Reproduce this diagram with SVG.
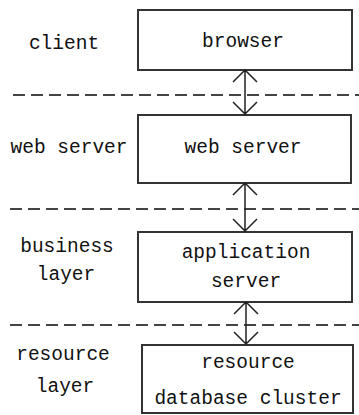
<svg xmlns="http://www.w3.org/2000/svg" width="359" height="415" viewBox="0 0 359 415">
<style>
.box{fill:#fff;stroke:#333;stroke-width:2}
.t{font-family:"Liberation Mono","DejaVu Sans Mono",monospace;font-size:19.5px;fill:#111;text-anchor:middle}
.dash{stroke:#444;stroke-width:2;stroke-dasharray:12 6;fill:none}
.arr{stroke:#222;stroke-width:1.5;fill:none}
</style>
<rect width="359" height="415" fill="#fff"/>
<g id="separators">
<line class="dash" x1="13" y1="95" x2="359" y2="95"/>
<line class="dash" x1="10" y1="209" x2="359" y2="209"/>
<line class="dash" x1="10" y1="325" x2="359" y2="325"/>
</g>
<g id="layer-labels">
<text class="t" x="64" y="49">client</text>
<text class="t" x="69" y="153">web server</text>
<text class="t" x="67" y="252">business</text>
<text class="t" x="66" y="280">layer</text>
<text class="t" x="63" y="360">resource</text>
<text class="t" x="65" y="392">layer</text>
</g>
<g id="browser">
<rect class="box" x="138" y="10" width="214" height="60"/>
<text class="t" x="243" y="47">browser</text>
</g>
<g id="webserver">
<rect class="box" x="138" y="115" width="213" height="68"/>
<text class="t" x="243" y="153">web server</text>
</g>
<g id="appserver">
<rect class="box" x="138" y="232" width="214" height="70"/>
<text class="t" x="246" y="258">application</text>
<text class="t" x="246" y="287">server</text>
</g>
<g id="resource">
<rect class="box" x="142" y="345" width="211" height="68"/>
<text class="t" x="248" y="368">resource</text>
<text class="t" x="248" y="404">database cluster</text>
</g>
<g id="connectors">
<path class="arr" d="M245 70 V114 M233 82 L245 70 L257 82 M233 102 L245 114 L257 102"/>
<path class="arr" d="M245 183 V231 M233 195 L245 183 L257 195 M233 219 L245 231 L257 219"/>
<path class="arr" d="M246 302 V344 M234 314 L246 302 L258 314 M234 332 L246 344 L258 332"/>
</g>
</svg>
